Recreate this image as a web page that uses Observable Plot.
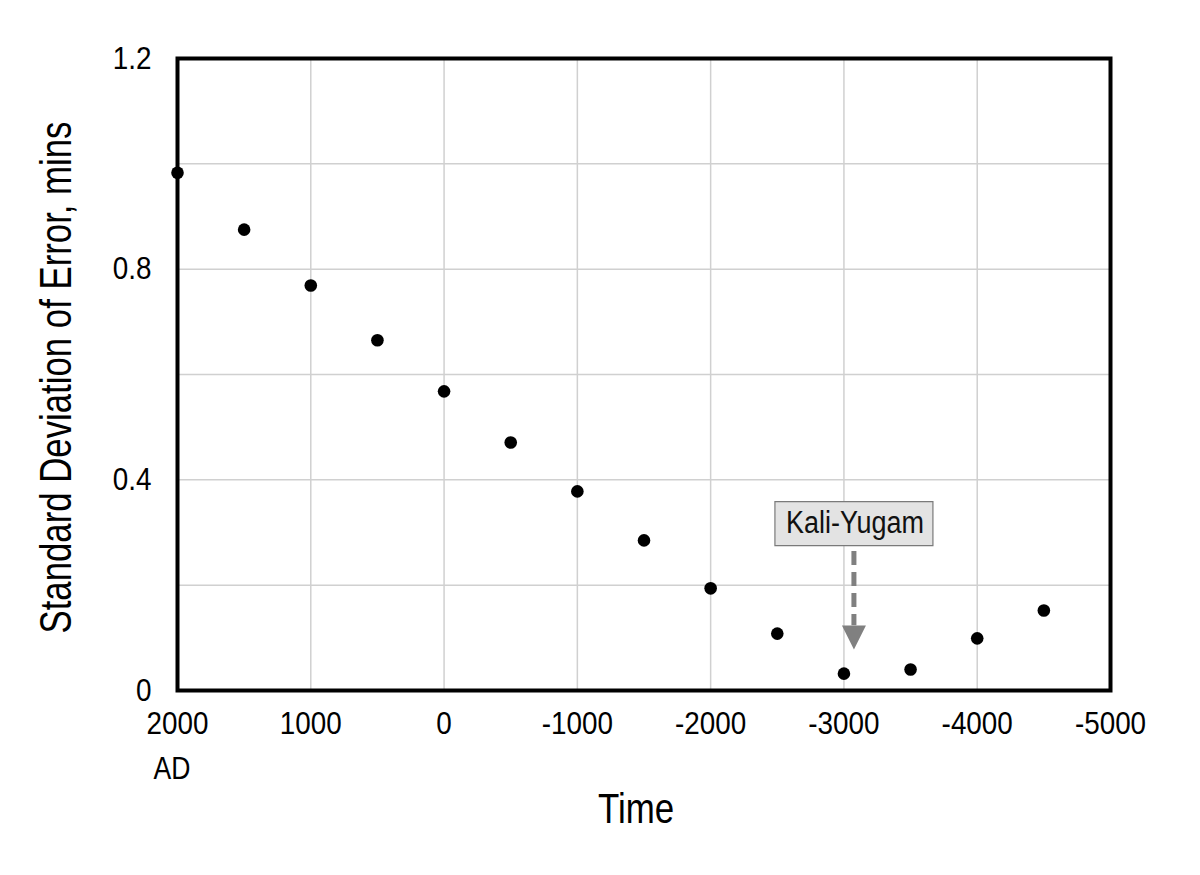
<!DOCTYPE html>
<html>
<head>
<meta charset="utf-8">
<script src="https://cdn.jsdelivr.net/npm/d3@7"></script>
<script src="https://cdn.jsdelivr.net/npm/@observablehq/plot@0.6"></script>
<style>
  html, body { margin: 0; padding: 0; background: #fff; }
  #chart svg { font-family: "Liberation Sans", Arial, sans-serif; }
</style>
</head>
<body>
<div id="chart"></div>
<script>
// ---- data ----
const years = [2000, 1500, 1000, 500, 0, -500, -1000, -1500, -2000, -2500, -3000, -3500, -4000, -4500];
const stdDev = [0.983, 0.875, 0.769, 0.665, 0.568, 0.471, 0.378, 0.285, 0.194, 0.108, 0.032, 0.040, 0.099, 0.152];

const xTicks = [2000, 1000, 0, -1000, -2000, -3000, -4000, -5000];
const xGrid = [1000, 0, -1000, -2000, -3000, -4000];
const yTicks = [0, 0.4, 0.8, 1.2];
const yGrid = [0.2, 0.4, 0.6, 0.8, 1.0];

const annotationLabel = ["Kali-Yugam"];
const annotationX = [-3075];
const annotationY = [0.317];
const arrowTop = [0.264];
const arrowHeadTop = [0.123];
const arrowTip = [0.078];

const xLabel = "Time";
const yLabel = "Standard Deviation of Error, mins";
const adLabel = "AD";

// ---- tables built from arrays ----
const points = years.map((y, i) => ({year: y, sd: stdDev[i]}));
const ann = annotationLabel.map((t, i) => ({
  label: t, x: annotationX[i], y: annotationY[i],
  top: arrowTop[i], headTop: arrowHeadTop[i], tip: arrowTip[i]
}));

// custom symbols
const boxSymbol = { draw(ctx) { ctx.rect(-79, -22, 158, 44); } };
const headSymbol = { draw(ctx) { ctx.moveTo(-12, -24); ctx.lineTo(12, -24); ctx.lineTo(0, 0); ctx.closePath(); } };

const chart = Plot.plot({
  width: 1200,
  height: 875,
  marginLeft: 177,
  marginRight: 90,
  marginTop: 58,
  marginBottom: 185,
  x: { domain: [2000, -5000] },
  y: { domain: [0, 1.2] },
  marks: [
    Plot.gridX(xGrid, { stroke: "#d0d0d0", strokeOpacity: 1, strokeWidth: 1.5 }),
    Plot.gridY(yGrid, { stroke: "#d0d0d0", strokeOpacity: 1, strokeWidth: 1.5 }),
    Plot.axisX({ ticks: xTicks, tickSize: 0, tickPadding: 21, fontSize: 32, label: null, tickFormat: d => String(d), fill: "black" }),
    Plot.axisY({ ticks: yTicks, tickSize: 0, tickPadding: 26, fontSize: 32, label: null, tickFormat: d => d === 0 ? "0" : d.toFixed(1), fill: "black" }),
    Plot.text([adLabel], { x: () => 2000, frameAnchor: "bottom", textAnchor: "start", lineAnchor: "bottom", dx: -24, dy: 88, fontSize: 32, fill: "black" }),
    Plot.text([xLabel], { frameAnchor: "bottom", textAnchor: "middle", lineAnchor: "bottom", dx: -8, dy: 132, fontSize: 42, fill: "black" }),
    Plot.text([yLabel], { frameAnchor: "left", textAnchor: "middle", rotate: -90, lineAnchor: "bottom", dx: -107, dy: 3, fontSize: 44, fill: "black" }),
    Plot.ruleX(ann, { x: "x", y1: "top", y2: "headTop", stroke: "#808080", strokeWidth: 5, strokeDasharray: "14,7" }),
    Plot.dot(ann, { x: "x", y: "tip", symbol: headSymbol, fill: "#808080", stroke: "none" }),
    Plot.dot(ann, { x: "x", y: "y", symbol: boxSymbol, fill: "#e3e3e3", stroke: "#7a7a7a", strokeWidth: 1.2 }),
    Plot.text(ann, { x: "x", y: "y", text: "label", fontSize: 31, fill: "#111", dx: 1 }),
    Plot.dot(points, { x: "year", y: "sd", r: 6.3, fill: "black", stroke: "none" }),
    Plot.frame({ stroke: "black", strokeWidth: 4 })
  ]
});
document.getElementById("chart").appendChild(chart);

// condense the lettering (the original uses a narrow face)
const condenseFor = { [yLabel]: 0.79, [xLabel]: 0.83, [adLabel]: 0.83 };
chart.querySelectorAll("text").forEach(t => {
  const L = t.getComputedTextLength();
  const r = condenseFor[t.textContent] ?? 0.87;
  if (L > 0) {
    t.setAttribute("textLength", (L * r).toFixed(1));
    t.setAttribute("lengthAdjust", "spacingAndGlyphs");
  }
});
</script>
</body>
</html>
